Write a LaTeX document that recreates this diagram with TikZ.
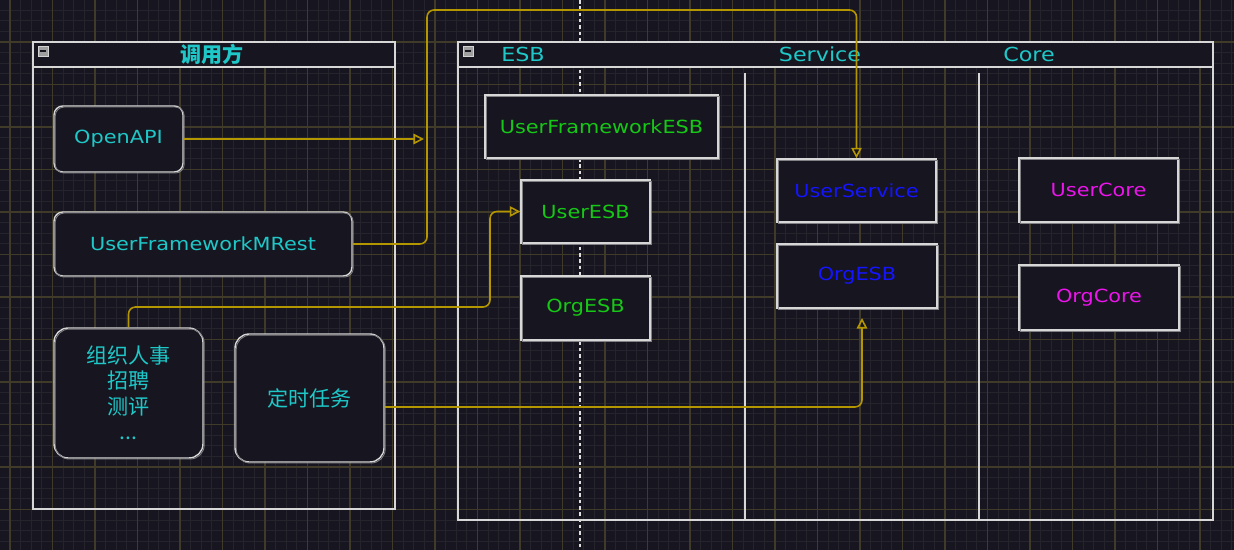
\documentclass[tikz,border=0pt]{standalone}
\usepackage{fontspec}
\usetikzlibrary{arrows.meta, positioning}
\newfontfamily\handfont[FakeStretch=1.15]{DejaVu Sans}
\newfontfamily\cjkfont{Noto Sans CJK SC}
\definecolor{bgdark}{RGB}{23,21,31}
\definecolor{gridminor}{RGB}{37,35,43}
\definecolor{gridmajor}{RGB}{64,59,40}
\definecolor{edgegray}{RGB}{215,215,215}
\definecolor{flowgold}{RGB}{180,150,0}
\definecolor{labcyan}{RGB}{30,200,200}
\definecolor{labgreen}{RGB}{22,200,22}
\definecolor{labblue}{RGB}{20,20,255}
\definecolor{labpink}{RGB}{235,20,235}

\begin{document}
\begin{tikzpicture}[x=0.02cm, y=-0.02cm, >={Triangle[open, length=6pt, width=6pt]},
    lanebox/.style={draw=edgegray, line width=0.8pt},
    card/.style={draw=edgegray, fill=bgdark, line width=0.8pt, inner sep=2pt,
      postaction={draw=edgegray!55!bgdark, line width=0.5pt, transform canvas={shift={(0.7pt,-0.6pt)}}}},
    roundcard/.style={card, rounded corners=5pt},
    lab/.style={font=\handfont\fontsize{10.3}{12}\selectfont},
    head/.style={font=\handfont\fontsize{11}{13}\selectfont, text=labcyan},
    flow/.style={->, draw=flowgold, line width=0.9pt, rounded corners=4pt},
    mini/.style={fill=gray!75, draw=gray!35, minimum size=0.2cm, inner sep=0pt}]
  \useasboundingbox (0,0) rectangle (1234,550);
  % background and grid
  \fill[bgdark] (0,0) rectangle (1234,550);
  \foreach \i in {0,...,116}
    \draw[gridminor, line width=0.5pt] ({-0.625+10.625*\i},0) -- ++(0,550);
  \foreach \j in {0,...,52}
    \draw[gridminor, line width=0.5pt] (0,{-0.5+10.625*\j}) -- ++(1234,0);
  \foreach \i in {0,...,28}
    \draw[gridmajor, line width=0.6pt] ({10+42.5*\i},0) -- ++(0,550);
  \foreach \j in {1,...,12}
    \draw[gridmajor, line width=0.6pt] (0,{-0.5+42.5*\j}) -- ++(1234,0);
  \draw[edgegray!80, line width=0.8pt, dash pattern=on 2pt off 1.6pt] (580,0) -- (580,550);

  % Left: caller container
  \draw[lanebox, fill=bgdark] (33,42) rectangle (395,67);
  \draw[lanebox] (33,67) rectangle (395,509);
  \node[mini] (callericon) at (43,51) {};
  \draw[bgdark, line width=0.8pt] ([xshift=1.4pt]callericon.west) -- ([xshift=-1.4pt]callericon.east);
  \node[head, font=\cjkfont\bfseries\fontsize{12}{14}\selectfont] (callertitle) at (212,54) {调用方};
  \node[roundcard, lab, text=labcyan, minimum width=2.58cm, minimum height=1.32cm] (openapi) at (118.5,139) {OpenAPI};
  \node[roundcard, lab, text=labcyan, minimum width=5.96cm, minimum height=1.28cm] (mrest) at (203,244) {UserFrameworkMRest};
  \node[card, rounded corners=8pt, text=labcyan, align=center, minimum width=2.98cm, minimum height=2.6cm,
        font=\cjkfont\fontsize{12}{14.5}\selectfont] (orgpeople) at (128.5,393) {组织人事\\招聘\\测评\\...};
  \node[card, rounded corners=8pt, text=labcyan, minimum width=2.98cm, minimum height=2.56cm,
        font=\cjkfont\fontsize{12}{14.5}\selectfont] (cron) at (309.5,398) {定时任务};

  % Right: ESB / Service / Core container
  \draw[lanebox, fill=bgdark] (458,42) rectangle (1213,67);
  \draw[lanebox] (458,67) rectangle (1213,520);
  \draw[lanebox] (745,73) -- (745,520);
  \draw[lanebox] (979,73) -- (979,520);
  \node[mini] (mainicon) at (468,51) {};
  \draw[bgdark, line width=0.8pt] ([xshift=1.4pt]mainicon.west) -- ([xshift=-1.4pt]mainicon.east);
  \node[head] (esbhead) at (523,54) {ESB};
  \node[head] (svchead) at (820,54) {Service};
  \node[head] (corehead) at (1029,54) {Core};
  \node[card, lab, text=labgreen, minimum width=4.66cm, minimum height=1.26cm] (ufesb) at (601.5,126.5) {UserFrameworkESB};
  \node[card, lab, text=labgreen, minimum width=2.58cm, minimum height=1.26cm] (useresb) at (585.5,211.5) {UserESB};
  \node[card, lab, text=labgreen, minimum width=2.58cm, minimum height=1.28cm] (orgesb) at (585.5,308) {OrgESB};
  \node[card, lab, text=labblue, minimum width=3.18cm, minimum height=1.26cm] (usersvc) at (856.5,190.5) {UserService};
  \node[card, lab, text=labblue, minimum width=3.2cm, minimum height=1.28cm] (orgsvc) at (857,276) {OrgESB};
  \node[card, lab, text=labpink, minimum width=3.18cm, minimum height=1.28cm] (usercore) at (1098.5,190) {UserCore};
  \node[card, lab, text=labpink, minimum width=3.2cm, minimum height=1.3cm] (orgcore) at (1099,297.5) {OrgCore};

  % connectors
  \coordinate (openhit) at (424,139);
  \coordinate (topbend) at (427,10);
  \coordinate (midbend) at (490,307);
  \coordinate (svcgap) at (862,318);
  \draw[flow] (openapi.east) -- (openhit);
  \draw[flow] (mrest.east) -| (topbend) -| (usersvc.north);
  \draw[flow] (orgpeople.north) |- (midbend) |- (useresb.west);
  \draw[flow] ([yshift=-0.18cm]cron.east) -| (svcgap);
\end{tikzpicture}
\end{document}
